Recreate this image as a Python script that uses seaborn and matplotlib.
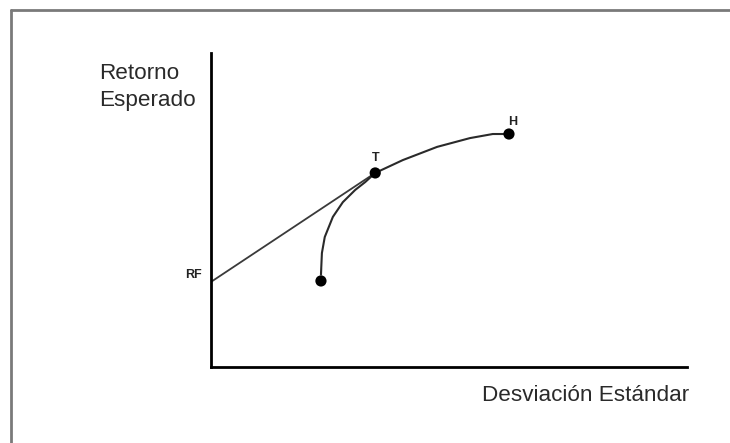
import matplotlib
matplotlib.use("Agg")
import matplotlib.pyplot as plt
from matplotlib.lines import Line2D
import seaborn as sns
import pandas as pd

# ---- data (arbitrary units) ----
frontier_x = [2.31, 2.31, 2.33, 2.39, 2.56, 2.77, 3.03, 3.24, 3.45, 4.03, 4.75, 5.44, 5.92, 6.26]
frontier_y = [2.74, 3.15, 3.63, 4.14, 4.78, 5.25, 5.64, 5.89, 6.18, 6.59, 7.01, 7.29, 7.42, 7.42]
cml_x = [0.0, 3.45]
cml_y = [2.71, 6.18]
dot_names = ["min", "T", "H"]
dot_x = [2.31, 3.45, 6.26]
dot_y = [2.74, 6.18, 7.42]
rf_value = 2.71
x_label = "Desviación Estándar"
y_label = "Retorno\nEsperado"

sns.set_style("white")
plt.rcParams['font.family'] = ['Liberation Sans', 'DejaVu Sans']

W, H = 730, 443
fig = plt.figure(figsize=(W / 100, H / 100), dpi=100)
fig.patch.set_facecolor("white")

ax = fig.add_axes([211 / W, (H - 367) / H, (687 - 211) / W, (367 - 53) / H])
ax.set_xlim(0, 10)
ax.set_ylim(0, 10)

frontier = pd.DataFrame({"x": frontier_x, "y": frontier_y})
cml = pd.DataFrame({"x": cml_x, "y": cml_y})
dots = pd.DataFrame({"name": dot_names, "x": dot_x, "y": dot_y})

sns.lineplot(data=cml, x="x", y="y", sort=False, ax=ax, color="#3a3a3a", lw=1.3)
sns.lineplot(data=frontier, x="x", y="y", sort=False, ax=ax, color="#2a2a2a", lw=1.5)
sns.scatterplot(data=dots, x="x", y="y", ax=ax, color="black", s=65, edgecolor="none", zorder=5)

ax.set_xlabel("")
ax.set_ylabel("")
ax.set_xticks([])
ax.set_yticks([])
for side in ["top", "right"]:
    ax.spines[side].set_visible(False)
for side in ["left", "bottom"]:
    ax.spines[side].set_color("black")
    ax.spines[side].set_linewidth(2)

px = 0.72  # points per pixel
lab_kw = dict(fontsize=9, color="#222222", fontweight="bold", textcoords="offset points")
ax.annotate("T", (dot_x[1], dot_y[1]), xytext=(0, 12 * px), ha="center", va="baseline", **lab_kw)
ax.annotate("H", (dot_x[2], dot_y[2]), xytext=(4 * px, 9 * px), ha="center", va="baseline", **lab_kw)
ax.annotate("RF", (0, rf_value), xytext=(-9 * px, 4 * px), ha="right", va="baseline", **lab_kw)

txt_kw = dict(fontsize=16.2, color="#2a2a2a", ha="left", va="baseline")
fig.text(99 / W, 1 - 79 / H, y_label.split("\n")[0], **txt_kw)
fig.text(99 / W, 1 - 106 / H, y_label.split("\n")[1], **txt_kw)
fig.text(482 / W, 1 - 401 / H, x_label, **txt_kw)

# outer frame (top and left edges visible)
fig.add_artist(Line2D([11 / W, 11 / W], [1 - 10 / H, -0.1], transform=fig.transFigure, color="#7a7a7a", lw=2))
fig.add_artist(Line2D([11 / W, 1.1], [1 - 10 / H, 1 - 10 / H], transform=fig.transFigure, color="#7a7a7a", lw=2))

fig.savefig("out.png", dpi=100, facecolor="white")
